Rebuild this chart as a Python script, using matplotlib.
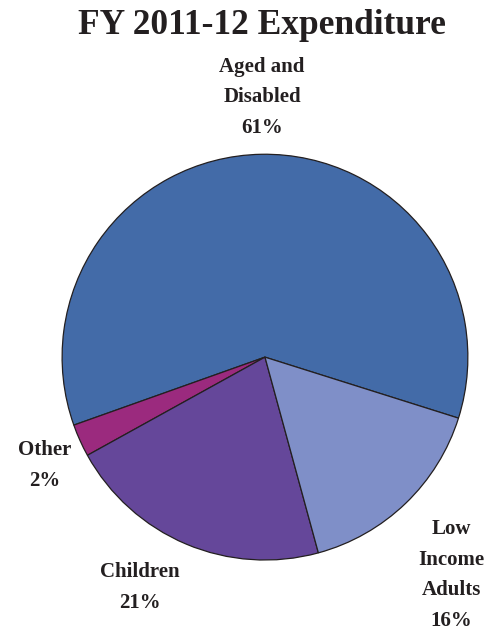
import matplotlib
matplotlib.use("Agg")
import matplotlib.pyplot as plt

# data
categories = ["Aged and\nDisabled", "Other", "Children", "Low\nIncome\nAdults"]
pct_labels = ["61%", "2%", "21%", "16%"]
# wedge sizes
shares = [60.3, 2.6, 21.2, 15.9]
colors = ["#436BA8", "#9B2A7E", "#65479A", "#7F8FC8"]
# label positions in pie data units (radius = 1)
label_pos = [(-0.015, 1.28), (-1.085, -0.535), (-0.615, -1.135), (0.92, -1.075)]

plt.rcParams["font.family"] = ["Liberation Serif", "DejaVu Serif"]
text_color = "#231F20"

fig = plt.figure(figsize=(4.88, 6.34), dpi=100)
ax = fig.add_axes([0.127, 0.1167, 0.832, 0.640])

ax.pie(shares, colors=colors, startangle=-17.5, counterclock=True,
       radius=1, wedgeprops=dict(edgecolor="#231F20", linewidth=0.9))
ax.set_xlim(-1, 1)
ax.set_ylim(-1, 1)
ax.set_aspect("equal")
ax.axis("off")

for name, pct, (x, y) in zip(categories, pct_labels, label_pos):
    ax.text(x, y, f"{name}\n{pct}", ha="center", va="center",
            fontsize=15, fontweight="bold", color=text_color,
            linespacing=1.7, clip_on=False)

fig.text(0.537, 1 - 25 / 634, "FY 2011-12 Expenditure", ha="center", va="center",
         fontsize=25.5, fontweight="bold", color=text_color)

fig.savefig("out.png", dpi=100)
